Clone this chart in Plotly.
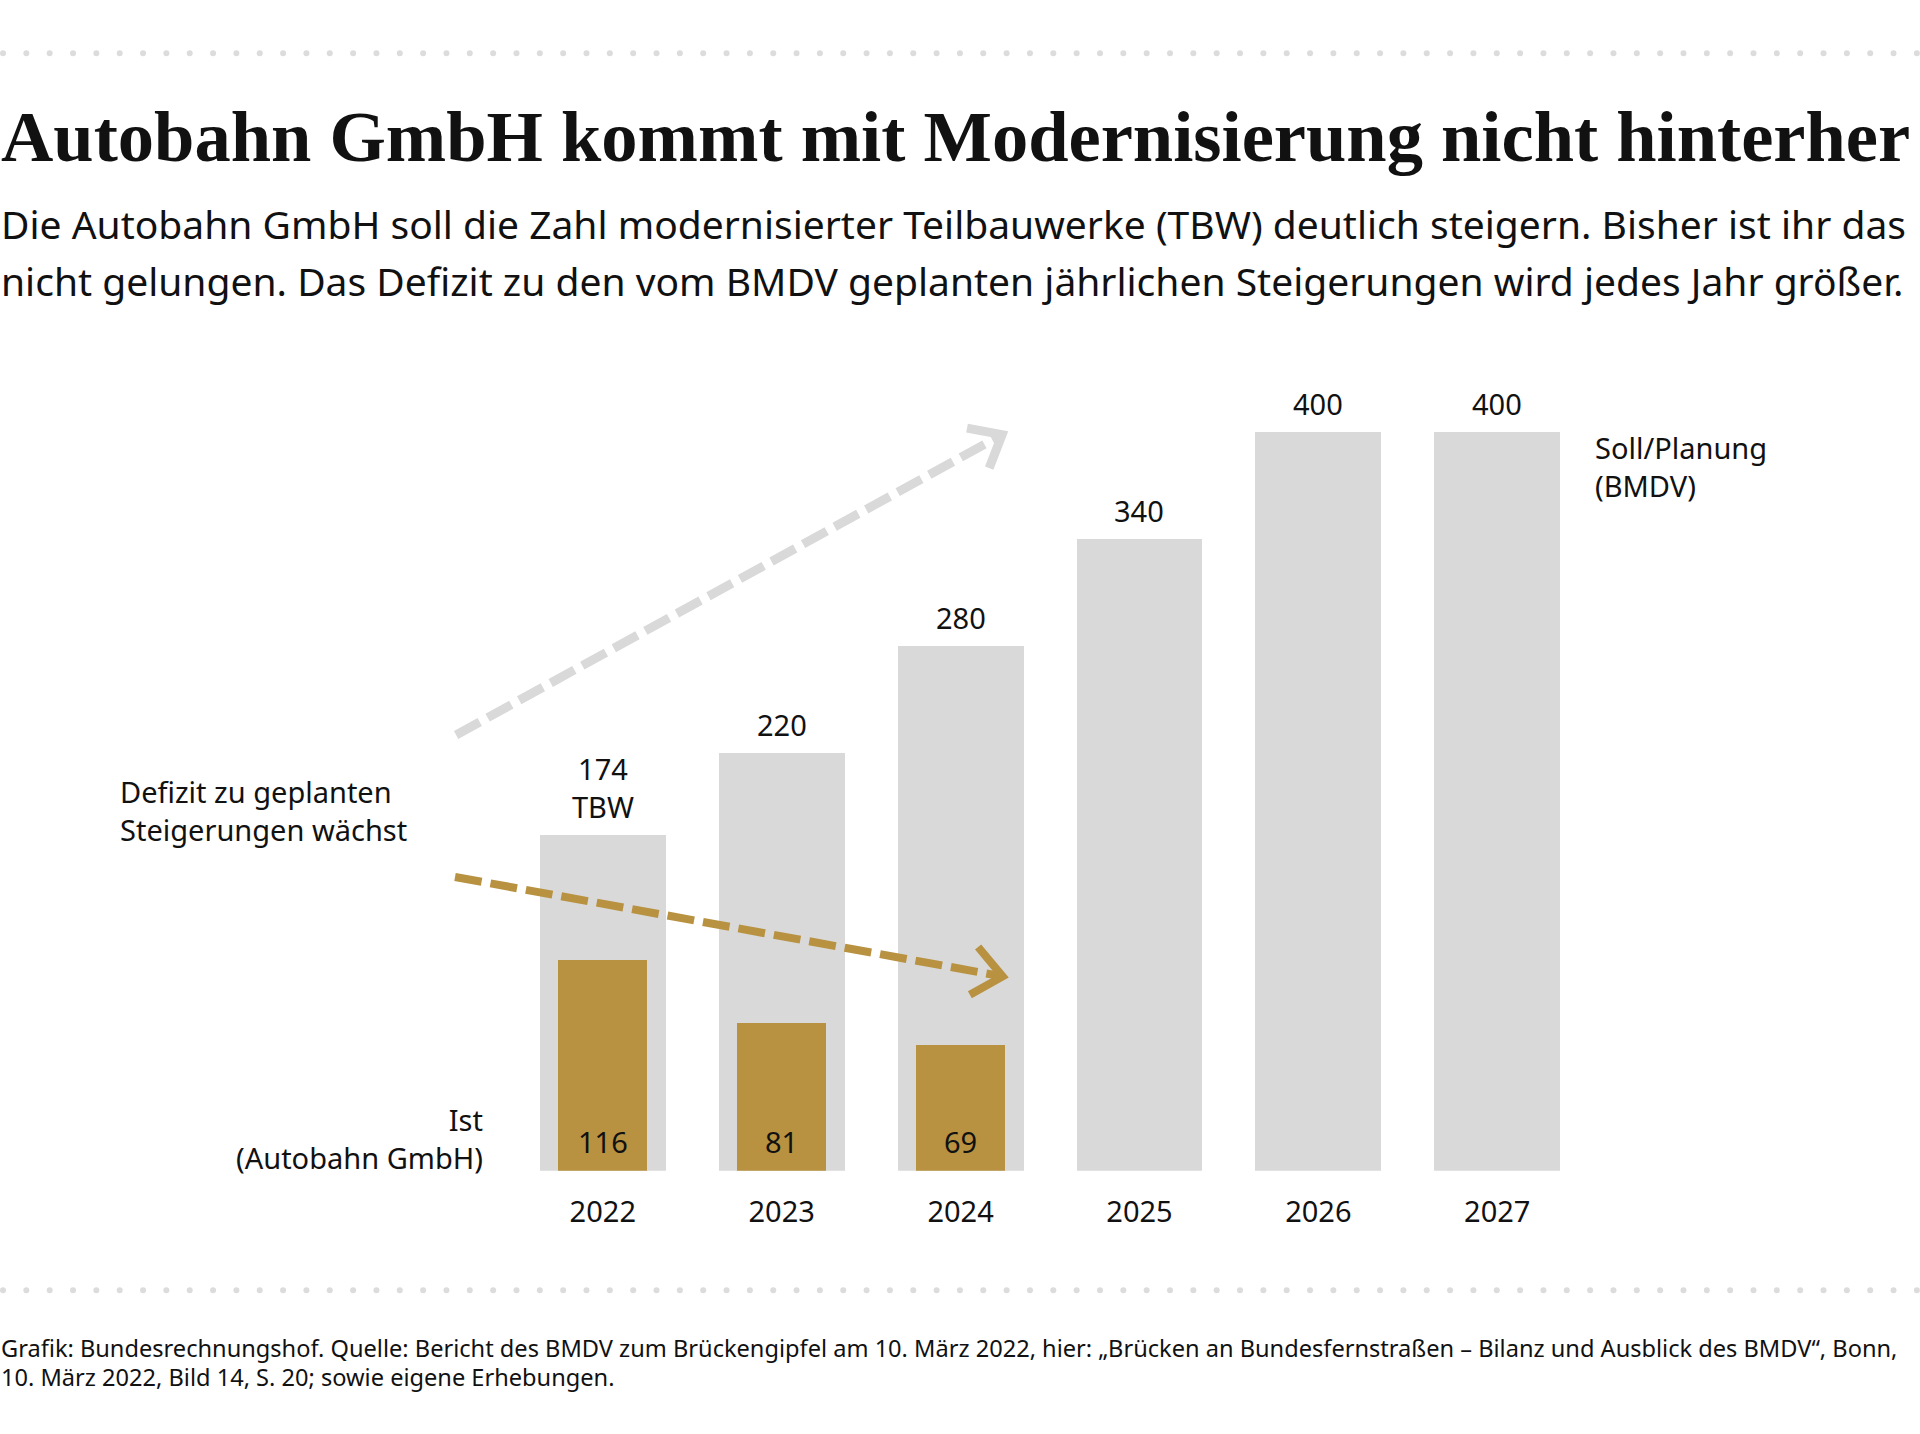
import plotly.graph_objects as go

# ---- data ----
years = ["2022", "2023", "2024", "2025", "2026", "2027"]
soll_values = [174, 220, 280, 340, 400, 400]
ist_years = ["2022", "2023", "2024"]
ist_values = [116, 81, 69]

title = "Autobahn GmbH kommt mit Modernisierung nicht hinterher"
subtitle_lines = [
    "Die Autobahn GmbH soll die Zahl modernisierter Teilbauwerke (TBW) deutlich steigern. Bisher ist ihr das",
    "nicht gelungen. Das Defizit zu den vom BMDV geplanten jährlichen Steigerungen wird jedes Jahr größer.",
]
source_lines = [
    "Grafik: Bundesrechnungshof. Quelle: Bericht des BMDV zum Brückengipfel am 10. März 2022, hier: „Brücken an Bundesfernstraßen – Bilanz und Ausblick des BMDV“, Bonn,",
    "10. März 2022, Bild 14, S. 20; sowie eigene Erhebungen.",
]

# ---- style ----
W, H = 1920, 1434
GRAY = "#d9d9d9"
GOLD = "#b89240"
DOT = "#dcdcdc"
TXT = "#111111"
SANS = "Noto Sans, Open Sans, sans-serif"
SERIF = "Liberation Serif, DejaVu Serif, serif"
FS = 29

PLOT_BOTTOM_PX = 1170.7
SOLL_BASE = -14.42

def py(px):
    return 1 - px / H

def pxx(px):
    return px / W

fig = go.Figure()

fig.add_trace(go.Bar(
    x=years, y=[v - SOLL_BASE for v in soll_values], base=SOLL_BASE,
    width=0.704, marker=dict(color=GRAY, line=dict(width=0)),
    yaxis="y", hoverinfo="skip", showlegend=False,
))
fig.add_trace(go.Bar(
    x=ist_years, y=ist_values,
    width=0.496, marker=dict(color=GOLD, line=dict(width=0)),
    yaxis="y2", hoverinfo="skip", showlegend=False,
))

annotations = []
# value labels above gray bars
for i, v in enumerate(soll_values):
    txt = f"{v}<br>TBW" if i == 0 else str(v)
    annotations.append(dict(
        x=i, y=v, xref="x", yref="y", text=txt, showarrow=False,
        yanchor="bottom", xanchor="center", yshift=7,
        font=dict(family=SANS, size=FS, color=TXT),
    ))
# value labels inside gold bars
for i, v in enumerate(ist_values):
    annotations.append(dict(
        x=i, y=0, xref="x", yref="y2", text=str(v), showarrow=False,
        yanchor="bottom", xanchor="center", yshift=8,
        font=dict(family=SANS, size=FS, color=TXT),
    ))

def txt_ann(text, x_px, y_px, xanchor, size, family=SANS, bold=False):
    annotations.append(dict(
        x=pxx(x_px), y=py(y_px), xref="paper", yref="paper",
        text=f"<b>{text}</b>" if bold else text, showarrow=False,
        xanchor=xanchor, yanchor="middle", align=xanchor,
        font=dict(family=family, size=size, color=TXT),
    ))

txt_ann(title, -1, 137, "left", 72.5, family=SERIF, bold=True)
txt_ann(subtitle_lines[0], -1, 223, "left", 39)
txt_ann(subtitle_lines[1], -1, 280, "left", 39)
txt_ann("Defizit zu geplanten<br>Steigerungen wächst", 118, 810, "left", FS)
txt_ann("Ist<br>(Autobahn GmbH)", 485, 1138, "right", FS)
txt_ann("Soll/Planung<br>(BMDV)", 1593, 466, "left", FS)
txt_ann(source_lines[0], -1, 1348, "left", 23.6)
txt_ann(source_lines[1], -1, 1377, "left", 23.6)

shapes = []
# dotted separators
for y_px in (53.3, 1290.3):
    for i in range(83):
        cx = 3 + 23.34 * i
        shapes.append(dict(
            type="circle", xref="paper", yref="paper",
            x0=pxx(cx - 3), x1=pxx(cx + 3), y0=py(y_px + 3), y1=py(y_px - 3),
            fillcolor=DOT, line=dict(width=0), layer="below",
        ))

# trend arrows (data coordinates on gold axis y2)
def arrow(x0, y0, x1, y1, a1, a2, color, width):
    shapes.append(dict(
        type="line", xref="x", yref="y2", x0=x0, y0=y0, x1=x1, y1=y1,
        line=dict(color=color, width=width, dash="27px,9px"),
    ))
    shapes.append(dict(
        type="path", xref="x", yref="y2",
        path=f"M {a1[0]},{a1[1]} L {x1},{y1} L {a2[0]},{a2[1]}",
        line=dict(color=color, width=width),
    ))

arrow(-0.820, 239.4, 2.232, 404.4, (2.036, 408.0), (2.160, 386.0), GRAY, 9)
arrow(-0.826, 161.4, 2.235, 106.75, (2.098, 122.9), (2.052, 96.7), GOLD, 8)

fig.update_layout(
    width=W, height=H,
    margin=dict(l=0, r=0, t=0, b=0),
    paper_bgcolor="white", plot_bgcolor="white",
    barmode="overlay", bargap=0,
    showlegend=False,
    xaxis=dict(
        type="category", categoryorder="array", categoryarray=years,
        range=[-3.3695, 7.363], showgrid=False, zeroline=False, showline=False,
        ticks="", tickfont=dict(family=SANS, size=FS, color=TXT),
        ticklabelstandoff=21, fixedrange=True,
    ),
    yaxis=dict(
        domain=[1 - PLOT_BOTTOM_PX / H, 1], range=[SOLL_BASE, 642.54],
        visible=False, showgrid=False, zeroline=False, fixedrange=True,
    ),
    yaxis2=dict(
        domain=[1 - PLOT_BOTTOM_PX / H, 1], range=[0, 643.24], overlaying="y",
        visible=False, showgrid=False, zeroline=False, fixedrange=True,
    ),
    annotations=annotations,
    shapes=shapes,
    hovermode=False,
)

fig.write_html(
    "out.html",
    config={"displayModeBar": False},
    post_script="document.body.style.margin='0';document.body.style.overflow='hidden';",
)
